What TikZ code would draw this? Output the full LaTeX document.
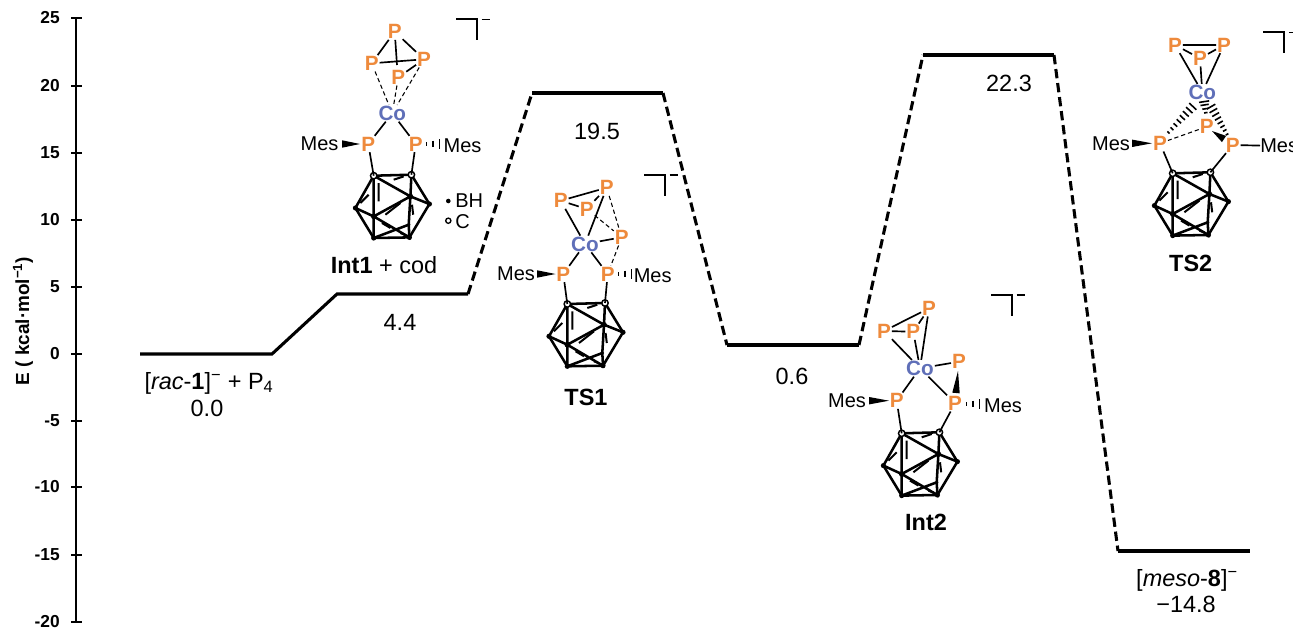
\documentclass[tikz,border=0pt]{standalone}
\usepackage{fontspec}
\setmainfont{Liberation Sans}
\usetikzlibrary{calc}
\definecolor{porange}{HTML}{EE8A3C}
\definecolor{coblue}{HTML}{5F6FB8}
\tikzset{
  x=0.75pt,y=-0.75pt,
  level/.style={line width=2.3pt},
  barrier/.style={line width=2.3pt,dash pattern=on 7pt off 3.6pt},
  axisline/.style={line width=2.2pt},
  ticklabel/.style={font=\bfseries\fontsize{13}{13}\selectfont,anchor=east,inner sep=0pt},
  val/.style={font=\fontsize{17.6}{17.6}\selectfont,inner sep=0pt},
  title/.style={font=\bfseries\fontsize{17.6}{17.6}\selectfont,inner sep=0pt},
  pat/.style={text=porange,font=\bfseries\fontsize{15.5}{15.5}\selectfont,inner sep=0.6pt},
  coat/.style={text=coblue,font=\bfseries\fontsize{15.5}{15.5}\selectfont,inner sep=0.6pt},
  mes/.style={font=\fontsize{15}{15}\selectfont,inner sep=0pt},
  bond/.style={line width=1.25pt,black},
  thinbond/.style={line width=0.8pt,black,dash pattern=on 3.2pt off 2.2pt},
  cageb/.style={line width=1.9pt,line cap=round},
  backb/.style={line width=1.5pt},
  bracket/.style={line width=1.3pt},
}
\newcommand{\cagevx}[3]{%
\begin{scope}[shift={(#2,#3)},name prefix=#1-]
  \coordinate (A) at (0,0);
  \coordinate (B) at (37.7,-1);
  \coordinate (C) at (-18.3,32.3);
  \coordinate (D) at (55.7,28.3);
  \coordinate (E) at (36.7,20.7);
  \coordinate (F) at (0,40.7);
  \coordinate (G) at (0,62.3);
  \coordinate (H) at (35.7,61.7);
  \coordinate (I) at (35,49);
  \draw[cageb] (A)--(B)--(D)--(H)--(G)--(C)--cycle;
  \draw[cageb] (A)--(E)--(D) (B)--(E)--(F)--(C) (A)--(F)--(G) (F)--(H)--(I)--(G) (E)--(I);
  \draw[backb] (-13.3,27.3)--(-5,19) (20,4)--(30,0.7) (5,7.3)--(5,25.7) (38.3,29)--(39.5,39)
    (11.7,39)--(26.7,27.3) (8.3,47.3)--(16.7,52.3) (26.7,57.3)--(31.7,59.3);
  \fill (C) circle (2.6) (D) circle (2.6) (E) circle (2.8) (F) circle (2.8) (G) circle (2.6) (H) circle (2.6) (I) circle (1.8);
  \filldraw[fill=white,draw=black,line width=1.1pt] (A) circle (3.2) (B) circle (3.2);
\end{scope}}
% wedge: narrow at #1, wide at #2
\newcommand{\wedgeb}[2]{\fill ($(#1)$) -- ($(#2)!2.8pt!90:(#1)$) -- ($(#2)!2.8pt!-90:(#1)$) -- cycle;}
% hashed bond: narrow at #1, wide at #2
\newcommand{\hashb}[3]{\foreach \t in {#3}{\pgfmathsetmacro{\w}{1+3*\t}\draw[line width=1.2pt] ($(#1)!\t!(#2)!\w pt!90:(#2)$) -- ($(#1)!\t!(#2)!\w pt!-90:(#2)$);}}
\newcommand{\bracketmark}[3]{\coordinate (#1a) at (#2,#3);\coordinate (#1b) at ($(#2,#3)+(21,0)$);\coordinate (#1c) at ($(#2,#3)+(21,21)$);\coordinate (#1d) at ($(#2,#3)+(25.5,0)$);\coordinate (#1e) at ($(#2,#3)+(34,0)$);\draw[bracket] (#1a)--(#1b)--(#1c);\draw[line width=0.9pt] (#1d)--(#1e);}
\begin{document}
\begin{tikzpicture}
\useasboundingbox[fill=white] (0,0) rectangle (1293,629);
% axis
\coordinate (axT) at (76,18);\coordinate (axB) at (76,622);
\draw[axisline] (axT)--(axB);
\foreach \v/\y in {25/18,20/86,15/153,10/220,5/287,0/354,-5/421,-10/487,-15/555,-20/622}{
  \coordinate (t\y l) at (71,\y);\coordinate (t\y r) at (82,\y);
  \draw[axisline] (t\y l)--(t\y r);
  \node[ticklabel] (lab\y) at (60,\y) {\v};
}
\node[font=\bfseries\fontsize{14.2}{14.2}\selectfont,rotate=90,inner sep=0pt] (ylabel) at (23,321) {E ( kcal·mol\textsuperscript{−1})};
% profile
\coordinate (a1) at (140,354);\coordinate (a2) at (272,354);
\coordinate (b1) at (337,294);\coordinate (b2) at (468,294);
\coordinate (c1) at (532,93);\coordinate (c2) at (663,93);
\coordinate (d1) at (727,345);\coordinate (d2) at (859,345);
\coordinate (e1) at (923,55);\coordinate (e2) at (1054,55);
\coordinate (f1) at (1118,551);\coordinate (f2) at (1250,551);
\draw[level] (a1)--(a2)--(b1)--(b2);
\draw[level] (c1)--(c2);\draw[level] (d1)--(d2);\draw[level] (e1)--(e2);\draw[level] (f1)--(f2);
\draw[barrier] (b2)--(c1);\draw[barrier] (c2)--(d1);\draw[barrier] (d2)--(e1);\draw[barrier] (e2)--(f1);
% values
\node[val] (va) at (209,383) {[\textit{rac}-\textbf{1}]\textsuperscript{−} + P\textsubscript{4}};
\node[val] (va2) at (207,408) {0.0};
\node[val] (vb) at (400,322) {4.4};
\node[val] (vc) at (597,131) {19.5};
\node[val] (vd) at (792,376) {0.6};
\node[val] (ve) at (1009,83) {22.3};
\node[val] (vf) at (1187,580) {[\textit{meso}-\textbf{8}]\textsuperscript{−}};
\node[val] (vf2) at (1186,604) {−14.8};
% ---------- Int1
\node[pat] (ip1) at (394.7,31.7) {P};
\node[pat] (ip2) at (371.7,63.3) {P};
\node[pat] (ip3) at (424,59.3) {P};
\node[pat] (ip4) at (398.3,77.3) {P};
\node[coat] (ico) at (392.3,113.3) {Co};
\node[pat] (ipl) at (368.3,144) {P};
\node[pat] (ipr) at (415.7,144) {P};
\node[mes] (imesl) at (319.5,144) {Mes};
\node[mes] (imesr) at (462.5,145.5) {Mes};
\cagevx{ic}{373.7}{175.7}
\draw[bond] (ip1)--(ip2) (ip1)--(ip3) (ip2)--(ip3);
\draw[white,line width=2.5pt] (396,52)--(397,60);
\coordinate (ip1f) at (397,65);
\draw[bond] (ip1)--(ip1f);
\draw[bond] (ip4)--(ip3);
\draw[thinbond] (ip2)--(ico) (ip4)--(ico) (ip3)--(ico);
\draw[bond] (ico)--(ipl) (ico)--(ipr) (ipl)--(ic-A) (ipr)--(ic-B);
\coordinate (iw1) at (360,144);\coordinate (iw2) at (342,144);\wedgeb{iw1}{iw2}
\coordinate (ih1) at (425,144);\coordinate (ih2) at (441,144);\hashb{ih1}{ih2}{0.1,0.5,0.9}
\fill (448.3,201) circle (2.3);
\node[mes,anchor=west] (bh) at (455,201) {BH};
\filldraw[fill=white,line width=1pt] (448.3,220.7) circle (2.6);
\node[mes,anchor=west] (cc) at (455,222) {C};
\node[val] (int1) at (384,265.5) {\textbf{Int1} + cod};
\bracketmark{ib}{456}{19.3}
% ---------- TS1
\node[pat] (sp1) at (606.7,187.7) {P};
\node[pat] (sp2) at (560.7,200.7) {P};
\node[pat] (sp3) at (586.7,209) {P};
\node[pat] (sp4) at (621.7,237.3) {P};
\node[coat] (sco) at (585,244) {Co};
\node[pat] (spl) at (563.3,274) {P};
\node[pat] (spr) at (607.7,274) {P};
\node[mes] (smesl) at (516,274) {Mes};
\node[mes] (smesr) at (652.7,275.7) {Mes};
\cagevx{sc}{567.3}{304}
\draw[bond] (sp2)--(sp1) (sp2)--(sp3) (sp3)--(sp1) (sp2)--(sco) (sp1)--(sco) (sp4)--(sco);
\draw[thinbond] (sp3)--(sp4) (sp1)--(sp4) (sp4)--(spr);
\draw[bond] (sco)--(spl) (sco)--(spr) (spl)--(sc-A) (spr)--(sc-B);
\coordinate (sw1) at (555.5,274);\coordinate (sw2) at (537,274);\wedgeb{sw1}{sw2}
\coordinate (sh1) at (617,274);\coordinate (sh2) at (633,274);\hashb{sh1}{sh2}{0.1,0.5,0.9}
\node[title] (ts1) at (586,397.3) {TS1};
\bracketmark{sb}{644}{175}
% ---------- Int2
\node[pat] (np1) at (929,308.3) {P};
\node[pat] (np2) at (884,331) {P};
\node[pat] (np3) at (913.3,331.7) {P};
\node[coat] (nco) at (920,368.3) {Co};
\node[pat] (np4) at (959,361.7) {P};
\node[pat] (npl) at (896.7,400.7) {P};
\node[pat] (npr) at (955,403.3) {P};
\node[mes] (nmesl) at (847,401) {Mes};
\node[mes] (nmesr) at (1003,405.5) {Mes};
\cagevx{nc}{901.7}{433.3}
\draw[bond] (np2)--(np1) (np2)--(np3) (np3)--(np1) (np2)--(nco) (np3)--(nco) (np1)--(nco) (nco)--(np4);
\draw[bond] (nco)--(npl) (nco)--(npr) (npl)--(nc-A) (npr)--(nc-B);
\coordinate (nw1) at (889,400.7);\coordinate (nw2) at (869,400.7);\wedgeb{nw1}{nw2}
\coordinate (nw3) at (958,371);\coordinate (nw4) at (956,393);\wedgeb{nw3}{nw4}
\coordinate (nh1) at (965,404);\coordinate (nh2) at (981,404);\hashb{nh1}{nh2}{0.1,0.5,0.9}
\node[title] (int2) at (926,522.7) {Int2};
\bracketmark{nb}{991}{295}
% ---------- TS2
\node[pat] (tp1) at (1175,45) {P};
\node[pat] (tp2) at (1224,45) {P};
\node[pat] (tp3) at (1200,58.3) {P};
\node[coat] (tco) at (1202.3,92.3) {Co};
\node[pat] (tpm) at (1206.7,126.7) {P};
\node[pat] (tpl) at (1160,143.3) {P};
\node[pat] (tpr) at (1232.7,145) {P};
\node[mes] (tmesl) at (1111,143.3) {Mes};
\node[mes,anchor=west] (tmesr) at (1260,146) {Mes};
\cagevx{tc}{1172.7}{173.3}
\draw[bond] (tp1)--(tp2) (tp1)--(tp3) (tp3)--(tp2) (tp1)--(tco) (tp3)--(tco) (tp2)--(tco);
\draw[thinbond] (tpm)--(tpl);
\draw[bond] (tpl)--(tc-A) (tpr)--(tc-B) (tpr)--(tmesr);
\coordinate (th1) at (1196,103);\coordinate (th2) at (1167,134);
\hashb{th2}{th1}{0.05,0.17,0.29,0.41,0.53,0.65,0.77,0.89}
\coordinate (th3) at (1209,103);\coordinate (th4) at (1228,136);
\hashb{th4}{th3}{0.05,0.17,0.29,0.41,0.53,0.65,0.77,0.89}
\coordinate (th5) at (1204,101);\coordinate (th6) at (1206,114);
\hashb{th6}{th5}{0.1,0.4,0.7,0.95}
\coordinate (tw1) at (1212,131);\coordinate (tw2) at (1224,139);\wedgeb{tw1}{tw2}
\coordinate (tw3) at (1152,143.3);\coordinate (tw4) at (1132,143.3);\wedgeb{tw3}{tw4}
\node[title] (ts2) at (1190.7,263.3) {TS2};
\bracketmark{tb}{1263.3}{32.3}
\end{tikzpicture}
\end{document}
